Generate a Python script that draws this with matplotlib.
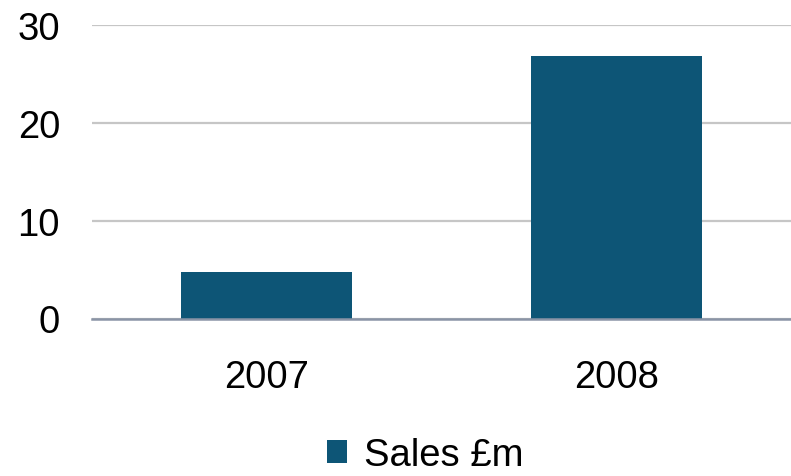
import matplotlib
matplotlib.use("Agg")
import matplotlib.pyplot as plt
from matplotlib.patches import Patch

years = ["2007", "2008"]
sales = [4.7, 26.8]
y_ticks = [0, 10, 20, 30]

plt.rcParams['font.family'] = ['Liberation Sans', 'DejaVu Sans']

fig = plt.figure(figsize=(7.91, 4.77), dpi=100)
ax = fig.add_axes([92 / 791, 1 - 319.5 / 477, 699 / 791, (319.5 - 25.7) / 477])

bar_color = "#0d5576"
ax.bar(range(len(years)), sales, width=0.49, color=bar_color, zorder=3)

ax.set_xlim(-0.5, len(years) - 0.5)
ax.set_ylim(0, 30)
ax.set_yticks(y_ticks)
ax.set_xticks(range(len(years)))
ax.set_xticklabels(years)

ax.yaxis.grid(True, color="#c6c6c6", linewidth=1.6, zorder=0)
for side in ["top", "right", "left"]:
    ax.spines[side].set_visible(False)
ax.spines["bottom"].set_color("#8a94a6")
ax.spines["bottom"].set_linewidth(1.8)
ax.spines["bottom"].set_zorder(4)

ax.tick_params(axis="y", length=0, pad=23, labelsize=27.5)
ax.tick_params(axis="x", length=0, pad=29, labelsize=27.5)

# legend sits centred under the plot, close to the bottom edge
handles = [Patch(facecolor=bar_color, label="Sales £m")]
fig.legend(handles=handles, loc="center", bbox_to_anchor=(425 / 791, 1 - 456 / 477),
           frameon=False, fontsize=27.5, handlelength=0.52, handleheight=0.52,
           handletextpad=0.45, borderpad=0)

fig.savefig("out.png", dpi=100)
